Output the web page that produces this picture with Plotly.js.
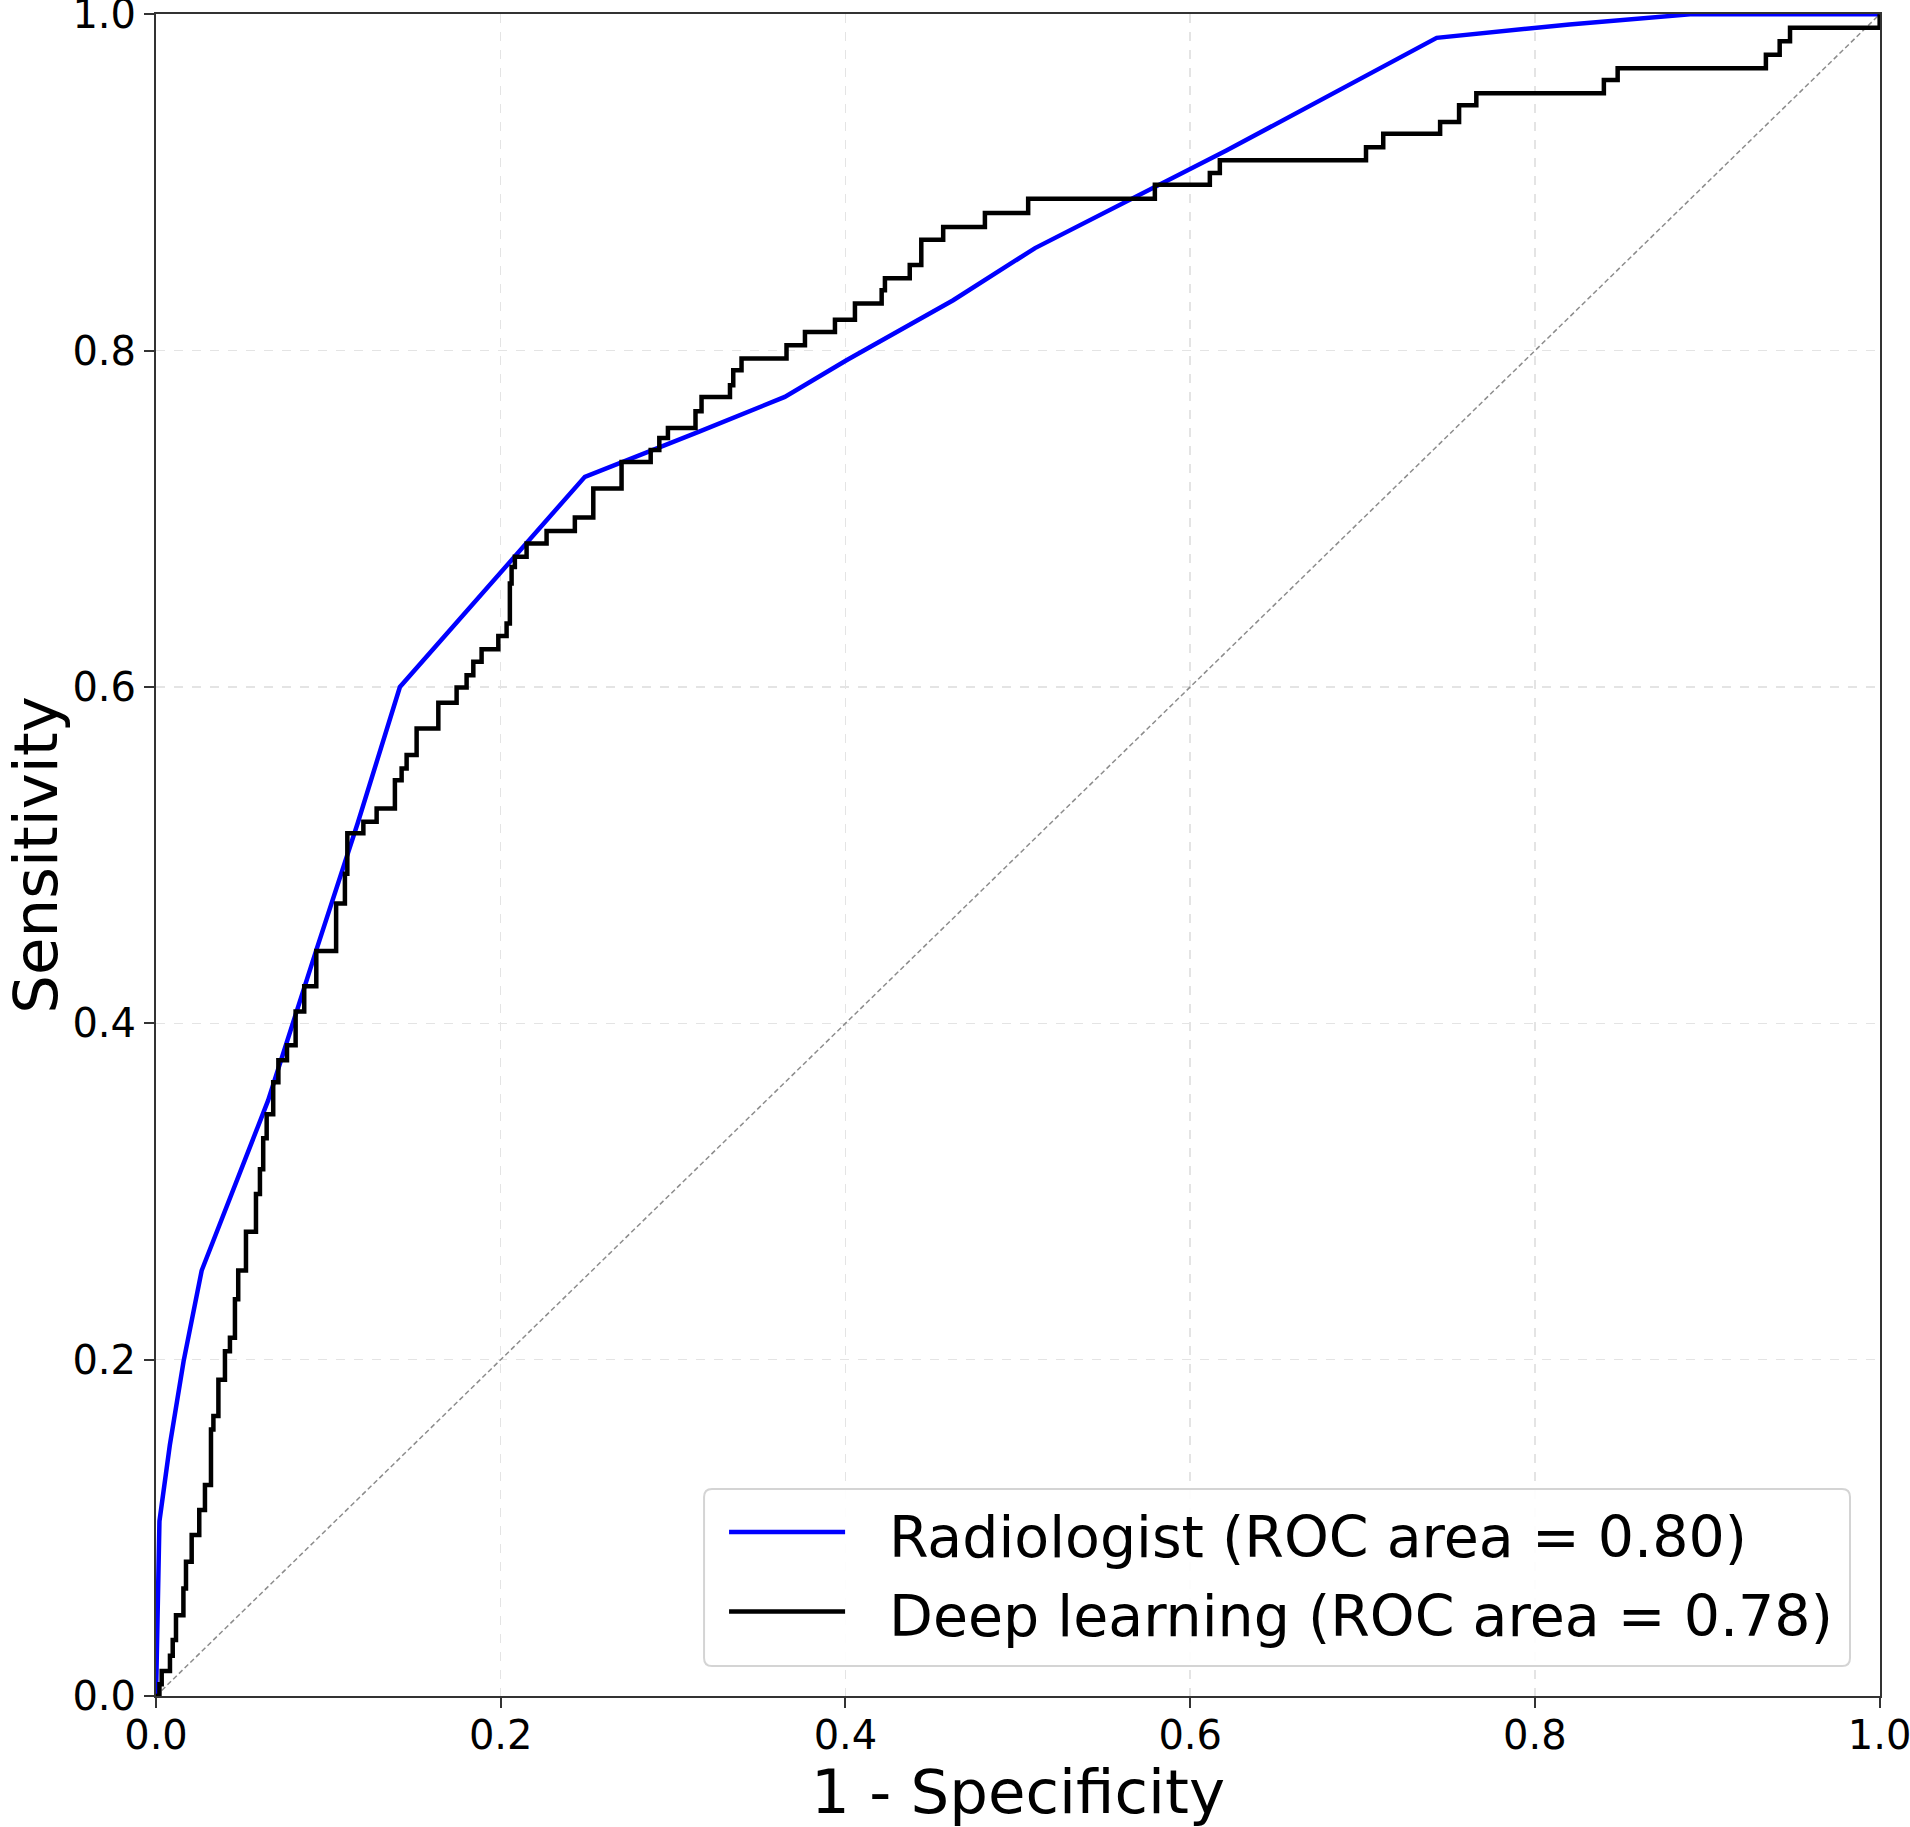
<!DOCTYPE html>
<html>
<head>
<meta charset="utf-8">
<script src="https://cdn.plot.ly/plotly-3.0.1.min.js"></script>
<style>html,body{margin:0;padding:0;background:#fff;}#chart{width:1910px;height:1827px;}</style>
</head>
<body>
<div id="chart"></div>
<script>
// Radiologist ROC curve (1 - specificity, sensitivity)
const radFpr = [0, 0.002, 0.008, 0.016, 0.0265, 0.065, 0.093, 0.117, 0.1415, 0.2488, 0.3155, 0.3648, 0.4006, 0.4625, 0.51, 0.621, 0.743, 0.82, 0.89, 1.0];
const radTpr = [0, 0.104, 0.149, 0.199, 0.253, 0.354, 0.4435, 0.519, 0.600, 0.725, 0.752, 0.7725, 0.7943, 0.83, 0.861, 0.919, 0.986, 0.994, 1.0, 1.0];

// Deep learning ROC curve (step corners: fpr where sensitivity rises, sensitivity after rise)
const dlFpr = [0, 0.002, 0.0033, 0.0081, 0.0097, 0.0116, 0.0159, 0.0174, 0.0207, 0.0251, 0.0284, 0.0319, 0.0333, 0.0362, 0.040, 0.0429, 0.0458, 0.0477, 0.0522, 0.058, 0.0603, 0.0622, 0.0642, 0.068, 0.071, 0.076, 0.081, 0.086, 0.093, 0.1045, 0.1096, 0.111, 0.1203, 0.128, 0.1386, 0.1425, 0.1454, 0.1512, 0.1638, 0.1744, 0.1802, 0.1841, 0.1889, 0.1986, 0.2034, 0.2053, 0.2063, 0.2082, 0.215, 0.2266, 0.243, 0.2537, 0.2701, 0.287, 0.292, 0.297, 0.313, 0.3165, 0.333, 0.3349, 0.3397, 0.3658, 0.3765, 0.3939, 0.4055, 0.421, 0.4229, 0.4373, 0.444, 0.4567, 0.4809, 0.506, 0.5795, 0.6114, 0.6172, 0.702, 0.712, 0.745, 0.756, 0.766, 0.84, 0.848, 0.934, 0.942, 0.948, 1.0];
const dlTpr = [0, 0.007, 0.0149, 0.024, 0.0333, 0.048, 0.0639, 0.0798, 0.0958, 0.1106, 0.1254, 0.1584, 0.1665, 0.188, 0.205, 0.213, 0.236, 0.253, 0.276, 0.2985, 0.3133, 0.3317, 0.346, 0.365, 0.378, 0.387, 0.407, 0.422, 0.443, 0.4713, 0.489, 0.513, 0.5198, 0.5278, 0.5446, 0.5515, 0.5595, 0.5753, 0.5906, 0.5997, 0.607, 0.615, 0.6225, 0.6304, 0.6377, 0.6615, 0.6714, 0.6774, 0.6853, 0.6928, 0.7008, 0.718, 0.7338, 0.741, 0.748, 0.754, 0.764, 0.7725, 0.7794, 0.7883, 0.7953, 0.8032, 0.8111, 0.8184, 0.828, 0.836, 0.843, 0.851, 0.866, 0.8736, 0.8819, 0.8904, 0.8987, 0.9057, 0.9132, 0.921, 0.929, 0.936, 0.946, 0.953, 0.961, 0.968, 0.976, 0.984, 0.992, 1.0];

// Chance diagonal
const diagX = [0, 1];
const diagY = [0, 1];

// Labels
const seriesNames = ["Radiologist (ROC area = 0.80)", "Deep learning (ROC area = 0.78)"];
const seriesColors = ["#0000ff", "#000000"];
const xTitle = "1 - Specificity";
const yTitle = "Sensitivity";
const tickVals = [0, 0.2, 0.4, 0.6, 0.8, 1.0];
const tickText = ["0.0", "0.2", "0.4", "0.6", "0.8", "1.0"];

const traces = [
  {x: diagX, y: diagY, mode: 'lines', showlegend: false, hoverinfo: 'skip',
   line: {color: '#8c8c8c', width: 1.5, dash: '5px,3px'}},
  {x: radFpr, y: radTpr, mode: 'lines', name: seriesNames[0], showlegend: false,
   line: {color: seriesColors[0], width: 4.5}},
  {x: dlFpr, y: dlTpr, mode: 'lines', name: seriesNames[1], showlegend: false,
   line: {color: seriesColors[1], width: 4.5, shape: 'hv'}}
];

const axisCommon = {
  range: [0, 1.0002], tickvals: tickVals, ticktext: tickText,
  showline: true, linecolor: '#333333', linewidth: 2, mirror: true,
  ticks: 'outside', ticklen: 10, tickwidth: 2, tickcolor: '#333333',
  ticklabeloverflow: 'allow',
  showgrid: true, gridcolor: '#e4e4e4', gridwidth: 1.5, griddash: 'dash',
  zeroline: false, tickfont: {size: 40, color: '#000'}
};

// Legend box (drawn manually to match the long line samples)
const lgX0 = 0.3179, lgX1 = 0.9826, lgY0 = 0.0178, lgY1 = 0.1231;
const rx = 0.0046, ry = 0.0048;
const boxPath = `M ${lgX0 + rx} ${lgY0} L ${lgX1 - rx} ${lgY0} Q ${lgX1} ${lgY0} ${lgX1} ${lgY0 + ry} ` +
  `L ${lgX1} ${lgY1 - ry} Q ${lgX1} ${lgY1} ${lgX1 - rx} ${lgY1} L ${lgX0 + rx} ${lgY1} ` +
  `Q ${lgX0} ${lgY1} ${lgX0} ${lgY1 - ry} L ${lgX0} ${lgY0 + ry} Q ${lgX0} ${lgY0} ${lgX0 + rx} ${lgY0} Z`;
const rowY = [0.0945, 0.0473];
const sampleX0 = 0.3324, sampleX1 = 0.3997, textX = 0.424;

const shapes = [
  {type: 'path', xref: 'paper', yref: 'paper', path: boxPath,
   fillcolor: 'rgba(255,255,255,0.9)', line: {color: '#d4d4d4', width: 2}, layer: 'above'}
];
const annotations = [];
seriesNames.forEach((nm, i) => {
  shapes.push({type: 'line', xref: 'paper', yref: 'paper', x0: sampleX0, x1: sampleX1,
    y0: rowY[i] + 0.003, y1: rowY[i] + 0.003, line: {color: seriesColors[i], width: 4.5}, layer: 'above'});
  annotations.push({xref: 'paper', yref: 'paper', x: textX, y: rowY[i], xanchor: 'left', yanchor: 'middle',
    text: nm, showarrow: false, font: {size: 57, color: '#000'}});
});

const layout = {
  width: 1910, height: 1827,
  margin: {l: 156, r: 30, t: 14, b: 131, pad: 0},
  paper_bgcolor: '#ffffff', plot_bgcolor: '#ffffff',
  font: {family: 'DejaVu Sans, sans-serif', color: '#000'},
  xaxis: Object.assign({}, axisCommon, {
    ticklabelstandoff: -7,
    title: {text: xTitle, font: {size: 61}, standoff: 14}
  }),
  yaxis: Object.assign({}, axisCommon, {
    title: {text: yTitle, font: {size: 61}, standoff: 22}
  }),
  shapes: shapes,
  annotations: annotations,
  showlegend: false
};

Plotly.newPlot('chart', traces, layout, {displayModeBar: false, staticPlot: true});
</script>
</body>
</html>
